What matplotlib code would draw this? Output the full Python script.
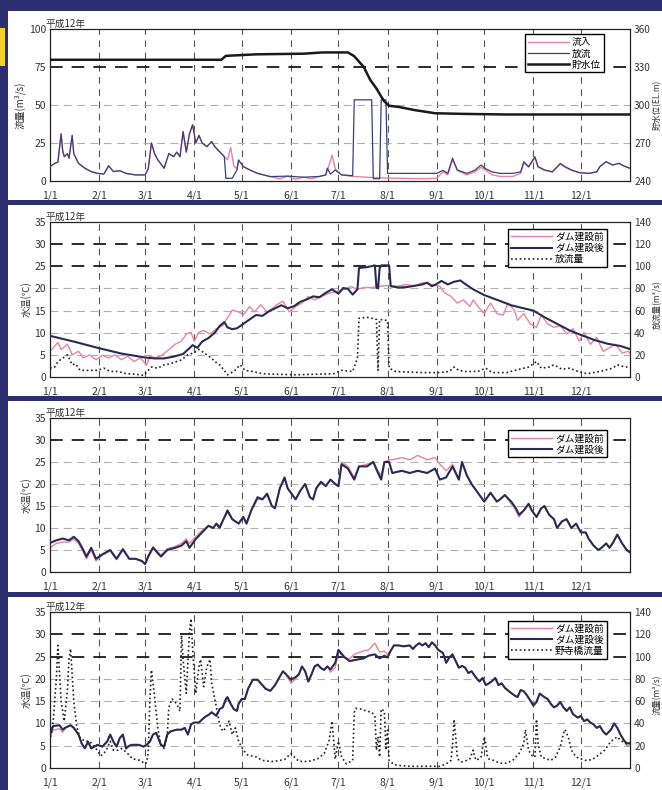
import matplotlib
matplotlib.use('Agg')
import matplotlib.pyplot as plt
from matplotlib.patches import Rectangle
from matplotlib.lines import Line2D

plt.rcParams['font.family'] = ['Noto Sans CJK JP', 'DejaVu Sans']

# ---------------- data ----------------
month_days = [0, 31, 60, 91, 121, 152, 182, 213, 244, 274, 305, 335]
month_labels = ['1/1', '2/1', '3/1', '4/1', '5/1', '6/1', '7/1', '8/1', '9/1', '10/1', '11/1', '12/1']

# Panel 1: flow (m3/s) and reservoir level (EL.m)
days_out = [0, 3, 5, 7, 8, 9, 11, 12, 14, 15,
            18, 22, 26, 30, 34, 37, 40, 44, 48, 54,
            60, 62, 64, 66, 68, 72, 75, 78, 80, 82,
            84, 86, 88, 90, 92, 94, 96, 99, 102, 104,
            107, 110, 111, 115, 118, 119, 122, 126, 131, 139,
            150, 160, 170, 174, 175, 177, 180, 184, 191, 192,
            203, 204, 208, 209, 212, 213, 230, 244, 248, 251,
            254, 257, 263, 268, 272, 275, 279, 284, 292, 297,
            299, 302, 306, 308, 312, 317, 322, 325, 329, 334,
            340, 345, 347, 351, 355, 359, 363, 366]
outflow = [9.5, 11.6, 12.5, 31, 20, 16, 18, 15, 30, 18,
           11.6, 8.4, 6.2, 5, 4.6, 10, 6.2, 6.8, 5, 4,
           4, 8, 25, 18, 14, 8.4, 18, 16, 19, 16,
           32.5, 19, 31, 37, 25, 30, 25, 22.6, 26, 22.6,
           19.3, 16, 1.8, 1.8, 7.3, 13.8, 9.5, 7.3, 5, 2.9,
           3.2, 2.5, 3, 4, 8.4, 4.5, 7.3, 4, 3.5, 53.4,
           53.4, 1.5, 1.5, 53.4, 53.4, 5, 5, 5, 7, 5,
           15, 7.3, 5, 7, 10.5, 8, 6, 5, 5, 6,
           12.7, 9.5, 16, 9.5, 7.3, 6, 11.6, 9.5, 7.3, 5.5,
           5, 6, 9.5, 12.7, 10.5, 11.6, 9.5, 8.4]

days_in = [0, 3, 5, 7, 8, 9, 11, 12, 14, 15,
           18, 22, 26, 30, 34, 37, 40, 44, 48, 54,
           60, 62, 64, 66, 68, 72, 75, 78, 80, 82,
           84, 86, 88, 90, 92, 94, 96, 99, 102, 104,
           107, 110, 112, 114, 116, 118, 119, 122, 126, 131,
           139, 145, 150, 155, 160, 165, 170, 174, 176, 178,
           180, 184, 191, 200, 210, 220, 235, 244, 248, 251,
           254, 257, 263, 268, 272, 275, 279, 284, 292, 297,
           299, 302, 306, 308, 312, 317, 322, 325, 329, 334,
           340, 345, 347, 351, 355, 359, 363, 366]
inflow = [9.5, 11.6, 12.5, 31, 20, 16, 18, 15, 30, 18,
          11.6, 8.4, 6.2, 5, 4.6, 10, 6.2, 6.8, 5, 4,
          4, 8, 25, 18, 14, 8.4, 18, 16, 19, 16,
          32.5, 19, 31, 37, 25, 30, 25, 22.6, 26, 22.6,
          19.3, 16, 14, 22, 10, 8, 13.8, 9.5, 7.3, 5,
          2.9, 1.5, 3.2, 1.2, 2.5, 1.5, 3, 4, 10, 17,
          8, 4, 3, 2.5, 2, 1.8, 1.5, 1.8, 6, 4,
          14, 7, 4, 6, 9, 7, 4, 3, 3, 5,
          12, 9, 15, 9, 7, 6, 11, 9, 7, 5.5,
          5, 6, 9.5, 12.7, 10.5, 11.6, 9.5, 8.4]

days_lv = [0, 108, 111, 130, 160, 172, 188, 192, 198, 202,
           206, 209, 211, 214, 220, 230, 243, 260, 288, 300, 366]
level = [335.7, 335.7, 338.8, 340.0, 340.5, 341.5, 341.5, 338.5, 330, 320,
         313, 306.7, 302.8, 299.4, 298.5, 296, 293.5, 293, 292.5, 292.5, 292.5]

# Panel 2: water temperature below dam (deg C) and release (m3/s)
days2_after = [0, 15, 31, 45, 60, 66, 72, 78, 84, 88,
               90, 93, 96, 100, 104, 107, 110, 112, 115, 118,
               122, 126, 130, 134, 138, 142, 146, 150, 154, 158,
               162, 166, 170, 174, 178, 182, 185, 188, 191, 194,
               195, 200, 205, 206, 207, 208, 209, 214, 215, 220,
               225, 230, 235, 238, 241, 244, 247, 251, 255, 259,
               262, 267, 274, 283, 291, 299, 305, 312, 320, 328,
               335, 344, 352, 360, 366]
after2 = [9.3, 8.0, 6.5, 5.3, 4.4, 4.2, 4.2, 4.6, 5.2, 6.5,
          7.2, 6.6, 8.0, 8.8, 10.0, 11.5, 12.4, 11.2, 10.8, 11.0,
          12.0, 13.0, 14.0, 13.8, 14.8, 15.5, 16.2, 15.5, 16.0, 17.0,
          17.5, 18.2, 18.0, 19.0, 19.8, 18.8, 20.1, 19.9, 18.6, 19.8,
          24.6, 24.8, 25.2, 20.2, 20.0, 24.5, 25.2, 25.2, 20.5, 20.2,
          20.3, 20.6, 20.9, 21.3, 20.5, 21.0, 21.7, 20.9, 21.5, 21.8,
          21.0, 19.8, 18.5, 17.3, 16.2, 15.5, 15.0, 13.5, 12.0, 10.5,
          9.5, 8.3, 7.5, 7.0, 6.3]
days2_before = [0, 2, 5, 7, 11, 14, 18, 21, 25, 29,
                33, 37, 41, 45, 49, 53, 57, 61, 63, 67,
                71, 75, 79, 83, 86, 89, 91, 94, 97, 101,
                105, 109, 111, 115, 119, 122, 126, 129, 133, 137,
                139, 143, 147, 151, 155, 159, 163, 167, 171, 177,
                182, 186, 190, 194, 198, 203, 209, 214, 219, 225,
                230, 235, 241, 246, 249, 253, 257, 261, 265, 267,
                271, 274, 278, 282, 286, 289, 293, 295, 299, 303,
                307, 310, 314, 318, 322, 326, 330, 334, 337, 341,
                345, 349, 353, 357, 361, 365, 366]
before2 = [5.8, 6.6, 7.8, 6.2, 7.4, 5.0, 5.8, 4.3, 5.0, 3.9,
           4.9, 4.3, 5.0, 3.9, 4.7, 3.5, 4.3, 2.7, 4.7, 4.3,
           5.0, 6.2, 7.4, 8.1, 9.7, 10.1, 8.1, 10.1, 10.5, 9.7,
           10.9, 11.6, 12.8, 15.1, 14.7, 14.0, 15.9, 14.7, 16.3, 14.7,
           15.1, 16.3, 17.1, 14.7, 15.9, 16.7, 18.2, 17.4, 18.2, 19.0,
           19.4, 19.8, 20.4, 19.8, 20.2, 20.2, 20.5, 20.7, 20.5, 20.9,
           20.5, 21.3, 20.9, 20.5, 19.0, 18.2, 16.7, 17.4, 15.9, 17.4,
           15.5, 14.3, 16.7, 14.3, 14.0, 16.7, 15.1, 12.8, 14.3, 12.0,
           11.2, 14.0, 12.0, 11.2, 11.6, 9.7, 10.9, 8.1, 10.1, 7.4,
           8.9, 5.8, 6.6, 7.4, 5.4, 5.8, 5.4]
days2_q = [0, 3, 5, 8, 11, 14, 16, 19, 24, 30,
           34, 38, 43, 48, 54, 59, 62, 64, 68, 72,
           76, 80, 83, 87, 91, 94, 96, 99, 102, 104,
           107, 110, 112, 116, 120, 123, 128, 134, 142, 155,
           168, 179, 184, 191, 194, 195, 200, 206, 207, 208,
           213, 214, 218, 225, 235, 246, 252, 255, 258, 262,
           270, 275, 279, 288, 299, 302, 304, 307, 310, 315,
           318, 323, 328, 333, 339, 347, 355, 358, 363, 366]
release2 = [8, 9, 14, 17, 20, 11, 12, 6, 6, 6,
            8, 5, 5, 3, 2.5, 1.5, 6, 9, 8, 11,
            12, 14, 15.5, 20, 22, 25, 23, 20, 17, 14,
            11, 6, 2, 5, 11, 6, 5, 3, 2.5, 2,
            2.5, 3, 6, 5, 17, 53, 54, 52, 6, 52,
            51, 8, 5, 4.5, 4, 4, 5, 9, 6, 5,
            5, 8, 4, 4, 8, 9, 11, 14, 8, 9,
            11, 7, 8, 5, 3, 5, 8, 11, 9, 9]

# Panel 3: water temperature (deg C)
days3 = [0, 4, 8, 12, 15, 18, 21, 23, 26, 29,
         33, 38, 42, 46, 50, 54, 58, 60, 62, 65,
         70, 74, 79, 83, 86, 88, 92, 96, 100, 103,
         105, 107, 112, 115, 119, 122, 124, 127, 131, 134,
         137, 140, 142, 145, 148, 150, 155, 158, 161, 164,
         166, 168, 171, 174, 177, 180, 182, 184, 188, 192,
         195, 200, 204, 207, 209, 211, 214, 216, 222, 227,
         232, 238, 243, 246, 250, 254, 258, 260, 263, 266,
         270, 274, 278, 282, 284, 287, 291, 294, 296, 299,
         302, 304, 307, 310, 312, 315, 318, 320, 323, 326,
         329, 332, 335, 338, 340, 343, 346, 348, 351, 353,
         355, 358, 361, 364, 366]
after3 = [6.6, 7.2, 7.6, 7.2, 8.0, 7.0, 5.0, 3.5, 5.5, 3.0,
          4.0, 5.0, 3.0, 5.2, 3.0, 3.0, 2.5, 1.8, 3.5, 5.5,
          3.5, 5.0, 5.5, 6.0, 7.0, 5.5, 7.5, 9.0, 10.5, 10.0,
          11.0, 10.0, 14.0, 12.0, 11.0, 12.5, 11.0, 14.0, 17.0, 16.5,
          17.8, 15.0, 14.5, 19.0, 21.5, 19.0, 16.5, 18.5, 20.0, 17.0,
          16.5, 19.0, 20.5, 19.5, 21.0, 20.0, 19.5, 24.5, 23.5, 21.0,
          24.0, 24.0, 25.0, 22.5, 21.0, 25.0, 25.0, 22.5, 23.0, 22.5,
          23.0, 22.5, 23.5, 21.0, 21.5, 24.0, 21.0, 25.0, 22.0, 20.0,
          18.0, 16.0, 18.0, 16.0, 16.5, 17.5, 16.0, 14.5, 13.0, 14.0,
          15.5, 14.0, 12.5, 14.5, 15.0, 13.0, 12.0, 10.0, 11.5, 12.0,
          10.0, 11.0, 9.0, 9.0, 7.5, 6.0, 5.0, 5.5, 6.5, 5.5,
          6.5, 8.5, 6.5, 5.0, 4.5]
before3 = [5.5, 6.5, 6.8, 6.8, 7.5, 6.5, 4.5, 3.0, 5.0, 2.5,
           3.8, 4.8, 2.8, 5.0, 3.0, 3.0, 2.5, 2.0, 3.8, 5.8,
           3.8, 5.3, 5.8, 6.5, 7.5, 6.5, 8.0, 9.5, 10.5, 10.0,
           11.0, 10.5, 13.5, 12.0, 11.0, 12.5, 11.0, 14.0, 16.5, 16.5,
           17.5, 15.0, 14.5, 19.0, 21.0, 19.0, 16.5, 18.5, 20.0, 17.0,
           16.5, 19.0, 20.5, 19.5, 21.0, 20.0, 19.5, 25.0, 24.0, 21.5,
           24.0, 24.5, 25.0, 23.0, 22.0, 25.0, 25.5, 25.5, 26.0, 25.5,
           26.5, 25.5, 26.0, 24.5, 23.0, 24.5, 21.0, 25.0, 22.0, 20.0,
           18.0, 16.0, 18.0, 16.0, 16.5, 17.5, 15.5, 14.0, 12.5, 14.0,
           15.5, 14.0, 12.5, 14.5, 15.0, 13.0, 12.0, 10.0, 11.5, 12.0,
           10.0, 11.0, 9.0, 9.0, 7.5, 6.0, 5.0, 5.5, 6.5, 5.5,
           6.5, 8.5, 6.5, 4.8, 4.3]

# Panel 4: water temperature (deg C) and Nodera-bashi discharge (m3/s)
days4 = [0, 2, 6, 8, 10, 13, 15, 18, 20, 22,
         24, 26, 30, 33, 36, 38, 40, 42, 44, 46,
         48, 50, 52, 56, 59, 61, 63, 65, 67, 70,
         72, 74, 76, 80, 83, 85, 87, 89, 91, 94,
         96, 98, 100, 102, 105, 107, 109, 111, 112, 114,
         116, 118, 119, 121, 123, 125, 128, 131, 133, 136,
         139, 142, 145, 147, 149, 152, 155, 157, 159, 161,
         163, 165, 167, 169, 171, 173, 175, 177, 180, 182,
         186, 189, 192, 195, 198, 201, 205, 208, 211, 213,
         215, 217, 220, 223, 227, 229, 231, 233, 235, 237,
         239, 241, 243, 245, 248, 250, 252, 254, 256, 258,
         260, 262, 264, 266, 269, 271, 273, 275, 277, 279,
         281, 283, 285, 287, 290, 293, 295, 297, 299, 301,
         303, 305, 307, 309, 312, 314, 316, 318, 320, 322,
         324, 326, 328, 330, 333, 335, 337, 339, 341, 343,
         345, 347, 349, 351, 354, 356, 358, 360, 362, 364,
         366]
after4 = [7.5, 9.4, 9.6, 8.6, 9.1, 9.6, 9.0, 7.5, 5.5, 4.4,
          5.9, 4.4, 5.2, 4.8, 5.9, 7.5, 5.9, 4.8, 6.7, 7.5,
          4.4, 5.0, 5.2, 5.2, 4.8, 5.2, 5.9, 7.5, 7.9, 5.2,
          4.8, 7.5, 8.2, 8.6, 8.6, 9.0, 7.5, 9.8, 10.2, 10.2,
          10.9, 11.5, 11.9, 12.5, 11.7, 13.2, 13.6, 15.5, 15.9, 14.4,
          13.2, 12.8, 14.4, 15.5, 15.5, 17.8, 19.8, 19.8, 19.0, 17.8,
          17.3, 18.6, 20.5, 21.7, 21.0, 19.8, 20.4, 21.0, 22.8, 21.7,
          19.4, 21.0, 22.8, 23.2, 22.4, 22.0, 22.8, 22.1, 23.6, 26.5,
          24.8, 24.0, 24.2, 24.4, 24.6, 25.2, 25.5, 24.6, 25.2, 24.8,
          26.3, 27.5, 27.5, 27.3, 27.5, 26.7, 27.5, 28.0, 27.5, 28.0,
          27.1, 28.2, 27.5, 26.5, 25.8, 23.6, 24.8, 25.5, 24.0, 22.5,
          22.9, 22.5, 21.3, 21.7, 20.2, 19.4, 20.2, 18.6, 19.0, 19.5,
          20.2, 18.6, 19.0, 18.0, 17.1, 16.3, 15.9, 17.5, 17.2, 16.3,
          15.2, 14.0, 14.8, 16.7, 15.9, 15.5, 14.4, 13.6, 14.0, 14.8,
          13.6, 12.8, 13.6, 12.1, 11.3, 11.7, 10.5, 10.9, 10.2, 9.8,
          9.0, 9.4, 8.2, 7.5, 8.6, 10.0, 9.0, 7.5, 6.3, 5.5,
          5.6]
before4 = [7.0, 8.5, 8.8, 8.0, 9.1, 9.6, 9.0, 7.5, 5.5, 4.4,
           5.9, 4.4, 5.2, 4.8, 5.9, 7.5, 5.9, 4.8, 6.7, 7.5,
           4.4, 5.0, 5.2, 5.2, 4.8, 5.2, 5.9, 7.5, 7.9, 5.2,
           4.8, 7.5, 8.2, 8.6, 8.6, 9.0, 7.5, 9.8, 10.2, 10.2,
           10.9, 11.5, 11.9, 12.5, 11.7, 13.2, 13.6, 15.0, 15.5, 14.4,
           13.2, 12.8, 14.4, 15.5, 15.5, 17.8, 19.8, 19.8, 19.0, 17.8,
           17.3, 18.6, 20.5, 21.7, 21.0, 19.0, 20.0, 21.0, 22.8, 21.7,
           19.4, 21.0, 22.8, 23.2, 22.4, 22.0, 22.8, 21.5, 22.5, 26.0,
           24.8, 24.5, 25.5, 25.9, 26.3, 26.5, 28.0, 26.0, 26.2, 25.5,
           26.3, 27.5, 27.5, 27.3, 27.5, 26.7, 27.5, 28.0, 27.5, 28.0,
           27.1, 28.2, 27.5, 26.5, 25.8, 23.6, 24.8, 25.5, 24.0, 22.5,
           22.9, 22.5, 21.3, 21.7, 20.2, 19.4, 20.2, 18.6, 19.0, 19.5,
           20.2, 18.6, 19.0, 18.0, 17.1, 16.3, 15.9, 17.5, 17.2, 16.3,
           15.2, 14.0, 14.8, 16.7, 15.9, 15.5, 14.4, 13.6, 14.0, 14.8,
           13.6, 12.8, 13.6, 12.1, 11.3, 11.7, 10.5, 10.9, 10.2, 9.8,
           9.0, 9.4, 8.2, 7.5, 8.6, 10.0, 9.0, 7.5, 6.3, 5.0,
           5.2]
days4_q = [0, 2, 4, 5, 7, 9, 11, 12, 13, 15,
           17, 19, 22, 25, 29, 32, 34, 36, 38, 40,
           43, 45, 48, 52, 57, 60, 61, 62, 63, 64,
           66, 68, 70, 72, 74, 75, 77, 80, 82, 83,
           84, 86, 88, 89, 90, 92, 94, 95, 97, 99,
           101, 102, 105, 107, 109, 111, 113, 115, 117, 119,
           122, 125, 130, 134, 140, 144, 148, 152, 157, 163,
           169, 173, 176, 178, 180, 182, 184, 187, 191, 192,
           193, 196, 200, 203, 205, 206, 207, 208, 209, 210,
           211, 212, 213, 214, 217, 221, 227, 234, 240, 246,
           250, 253, 254, 255, 256, 257, 258, 260, 263, 265,
           267, 268, 269, 272, 274, 275, 276, 277, 280, 284,
           288, 292, 296, 299, 300, 301, 302, 304, 306, 307,
           308, 310, 313, 316, 319, 322, 324, 325, 327, 329,
           332, 335, 338, 342, 346, 350, 353, 355, 358, 360,
           363, 366]
discharge4 = [24, 42, 80, 110, 60, 42, 70, 98, 107, 60,
              36, 27, 24, 24, 17.5, 11, 13, 17.5, 24, 16,
              16, 17.5, 14.5, 8.3, 6.8, 3.7, 5, 14.5, 60, 88,
              64, 36, 20.6, 17.5, 30, 54.5, 62, 57.5, 51, 119,
              97.5, 67, 122, 134, 107, 67, 91, 97.5, 73, 91,
              97.5, 76, 54.5, 39, 33, 36, 42, 30, 36, 24,
              16, 11.4, 10, 6.8, 5.8, 6.5, 7.7, 13, 6, 5.8,
              8.3, 13, 24, 42, 8, 24, 10, 3.7, 6.8, 50,
              53.5, 53, 51, 50, 47, 16, 28, 10, 53, 52,
              51, 16, 34, 6.8, 3, 2.2, 1.5, 1.5, 1.6, 1.5,
              3.7, 6.8, 20, 43.7, 28, 10, 6.8, 5.5, 6.8, 8.3,
              16, 10, 6.8, 9.8, 28, 22, 9.8, 8, 6.8, 4.3,
              4.3, 6.8, 13, 22, 34.5, 25, 16, 11.4, 9.8, 43.7,
              22, 9.8, 8.3, 6.8, 9.8, 19, 31, 34.5, 28, 16,
              9.8, 8.3, 6.8, 7.5, 11.4, 16, 22, 25, 28, 25,
              22, 22]

# ---------------- style ----------------
NAVY = '#2c3070'
PINK = '#e8849f'
DARK = '#2a2b55'
TXT = '#333333'
W, H = 662, 790

fig = plt.figure(figsize=(W / 100, H / 100), dpi=100)
fig.patch.set_facecolor(NAVY)


def fy(y):
    return 1 - y / H


for top, bot in [(11, 200), (205, 396), (401, 592), (597, 790)]:
    fig.add_artist(Rectangle((8 / W, fy(bot)), 1 - 8 / W, (bot - top) / H,
                             transform=fig.transFigure, facecolor='white',
                             edgecolor='none', zorder=-5))
fig.add_artist(Rectangle((0, fy(66)), 5 / W, 38 / H, transform=fig.transFigure,
                         facecolor='#f2d22a', edgecolor='none', zorder=-4))

rects = [(29, 181), (222, 377), (418, 572), (612, 768)]


def make_ax(i, ylim, yticks, bold):
    t, b = rects[i]
    ax = fig.add_axes([50 / W, fy(b), 580 / W, (b - t) / H])
    ax.set_facecolor('white')
    ax.set_xlim(0, 366)
    ax.set_ylim(*ylim)
    ax.set_xticks(month_days)
    ax.set_xticklabels(month_labels)
    ax.set_yticks(yticks)
    ax.tick_params(length=0, labelsize=7.5, colors=TXT, pad=3)
    ax.tick_params(axis='x', pad=7)
    for s in ax.spines.values():
        s.set_linewidth(0.9)
        s.set_color('#222222')
    for d in month_days[1:]:
        ax.axvline(d, color='#555555', lw=0.8, ls=(0, (6, 5)), zorder=0.5)
    for y in yticks[1:-1]:
        if y in bold:
            ax.axhline(y, color='#1a1a1a', lw=1.3, ls=(0, (7, 5)), zorder=0.6)
        else:
            ax.axhline(y, color='#b0b0b0', lw=0.8, ls=(0, (7, 5)), zorder=0.5)
    ax.text(-0.008, 1.0, '平成12年', transform=ax.transAxes, fontsize=7,
            va='bottom', ha='left', color=TXT)
    return ax


def right_axis(ax, ylim, yticks):
    r = ax.twinx()
    r.set_ylim(*ylim)
    r.set_yticks(yticks)
    r.tick_params(length=0, labelsize=7.3, colors=TXT, pad=3)
    for s in r.spines.values():
        s.set_visible(False)
    return r


def add_legend(ax, handles, labels, anchor):
    lg = ax.legend(handles, labels, loc='upper right', bbox_to_anchor=anchor,
                   fontsize=7, frameon=True, fancybox=False, edgecolor='black',
                   framealpha=1, handlelength=4.2, handletextpad=0.3,
                   borderpad=0.3, labelspacing=0.12, borderaxespad=0)
    lg.get_frame().set_linewidth(1.0)
    lg.set_zorder(10)


RLAB_X = 657 / W

# ---- panel 1 ----
ax1 = make_ax(0, (0, 100), [0, 25, 50, 75, 100], [75])
ax1.plot(days_in, inflow, color=PINK, lw=1.0, zorder=2)
ax1.plot(days_out, outflow, color='#3a3f7a', lw=0.9, zorder=3)
ax1.set_ylabel('流量(m³/s)', fontsize=7, color=TXT, labelpad=2)
r1 = right_axis(ax1, (240, 360), [240, 270, 300, 330, 360])
r1.plot(days_lv, level, color='#1a1a1a', lw=1.8, zorder=4)
fig.text(RLAB_X, fy(105), '貯水位(EL.m)', rotation=90, fontsize=6,
         ha='center', va='center', color=TXT)
add_legend(r1, [Line2D([], [], color=PINK, lw=1.0),
                Line2D([], [], color='#3a3f7a', lw=0.9),
                Line2D([], [], color='#1a1a1a', lw=1.8)],
           ['流入', '放流', '貯水位'], (0.955, 0.965))

# ---- panel 2 ----
ax2 = make_ax(1, (0, 35), [0, 5, 10, 15, 20, 25, 30, 35], [25, 30])
ax2.plot(days2_before, before2, color=PINK, lw=1.0, zorder=2)
ax2.plot(days2_after, after2, color=DARK, lw=1.5, zorder=3)
ax2.set_ylabel('水温(℃)', fontsize=7, color=TXT, labelpad=2)
r2 = right_axis(ax2, (0, 140), [0, 20, 40, 60, 80, 100, 120, 140])
r2.plot(days2_q, release2, color='#222222', lw=1.2, ls=(0, (1, 1.6)), zorder=4)
fig.text(RLAB_X, fy(305), '放流量(m³/s)', rotation=90, fontsize=6,
         ha='center', va='center', color=TXT)
add_legend(r2, [Line2D([], [], color=PINK, lw=1.0),
                Line2D([], [], color=DARK, lw=1.5),
                Line2D([], [], color='#222222', lw=1.2, ls=(0, (1, 1.6)))],
           ['ダム建設前', 'ダム建設後', '放流量'], (0.96, 0.955))

# ---- panel 3 ----
ax3 = make_ax(2, (0, 35), [0, 5, 10, 15, 20, 25, 30, 35], [30])
ax3.plot(days3, before3, color=PINK, lw=1.0, zorder=2)
ax3.plot(days3, after3, color=DARK, lw=1.5, zorder=3)
ax3.set_ylabel('水温(℃)', fontsize=7, color=TXT, labelpad=2)
add_legend(ax3, [Line2D([], [], color=PINK, lw=1.0),
                 Line2D([], [], color=DARK, lw=1.5)],
           ['ダム建設前', 'ダム建設後'], (0.96, 0.92))

# ---- panel 4 ----
ax4 = make_ax(3, (0, 35), [0, 5, 10, 15, 20, 25, 30, 35], [25, 30])
ax4.plot(days4, before4, color=PINK, lw=1.0, zorder=2)
ax4.plot(days4, after4, color=DARK, lw=1.5, zorder=3)
ax4.set_ylabel('水温(℃)', fontsize=7, color=TXT, labelpad=2)
r4 = right_axis(ax4, (0, 140), [0, 20, 40, 60, 80, 100, 120, 140])
r4.plot(days4_q, discharge4, color='#222222', lw=1.2, ls=(0, (1, 1.6)), zorder=4)
fig.text(RLAB_X, fy(695), '流量(m³/s)', rotation=90, fontsize=6,
         ha='center', va='center', color=TXT)
add_legend(r4, [Line2D([], [], color=PINK, lw=1.0),
                Line2D([], [], color=DARK, lw=1.5),
                Line2D([], [], color='#222222', lw=1.2, ls=(0, (1, 1.6)))],
           ['ダム建設前', 'ダム建設後', '野寺橋流量'], (0.96, 0.945))

fig.savefig('out.png', dpi=100, facecolor=fig.get_facecolor())
